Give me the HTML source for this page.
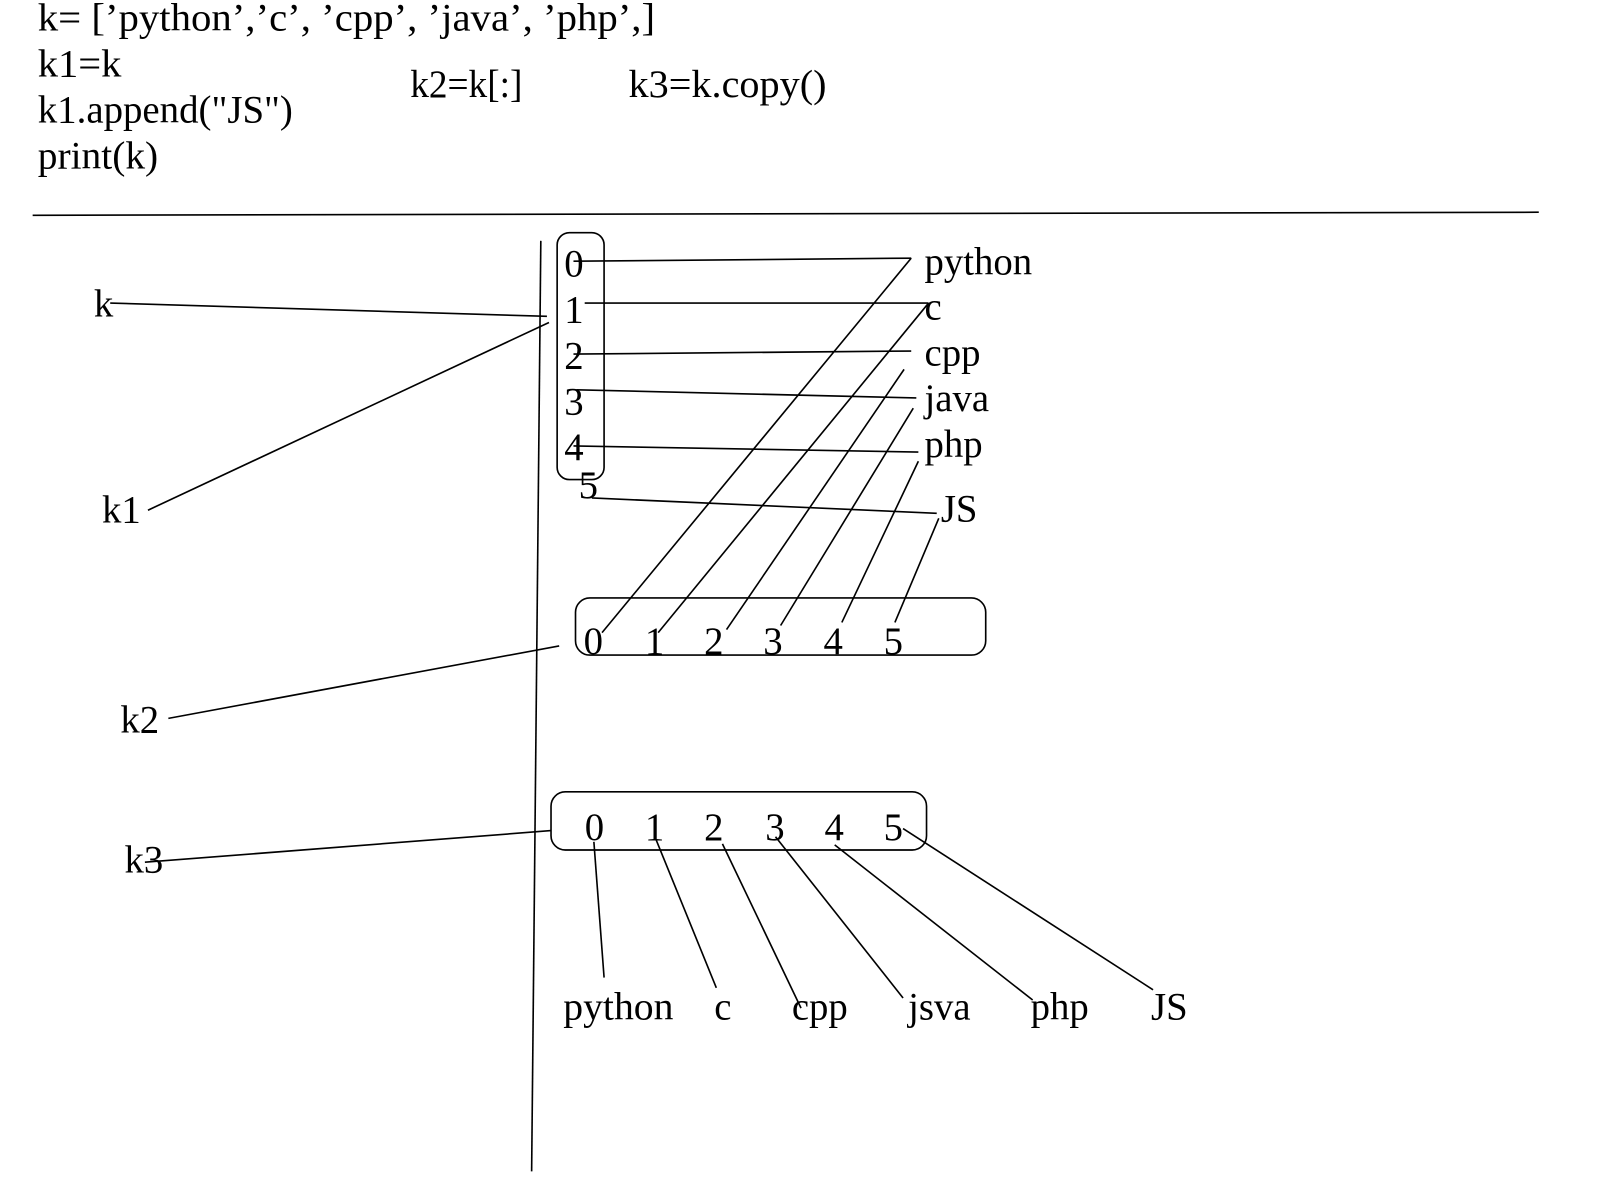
<!DOCTYPE html>
<html><head><meta charset="utf-8"><style>
html,body{margin:0;padding:0;background:#fff;}
svg{display:block;}
text{font-family:"Liberation Serif",serif;fill:#000;}
line,rect{stroke:#000;fill:none;stroke-width:1.6;}
</style></head><body>
<svg width="1600" height="1200" viewBox="0 0 1568 1176" preserveAspectRatio="none">
<g font-size="38">
<text x="37" y="30" textLength="605" lengthAdjust="spacingAndGlyphs">k=  [’python’,’c’,  ’cpp’,  ’java’,  ’php’,]</text>
<text x="37" y="75" textLength="82" lengthAdjust="spacingAndGlyphs">k1=k</text>
<text x="37" y="120" textLength="250" lengthAdjust="spacingAndGlyphs">k1.append("JS")</text>
<text x="37" y="165" textLength="118" lengthAdjust="spacingAndGlyphs">print(k)</text>
<text x="402" y="95" textLength="110" lengthAdjust="spacingAndGlyphs">k2=k[:]</text>
<text x="616" y="95" textLength="194" lengthAdjust="spacingAndGlyphs">k3=k.copy()</text>
</g>
<line x1="32" y1="211" x2="1508" y2="208"/>
<line x1="530" y1="236" x2="521" y2="1148"/>

<g font-size="38">
<text x="92" y="310">k</text>
<text x="100" y="512">k1</text>
<text x="118" y="718">k2</text>
<text x="122" y="855">k3</text>
</g>
<line x1="108" y1="297" x2="536" y2="310"/>
<line x1="145" y1="500" x2="538" y2="316"/>
<line x1="165" y1="704" x2="548" y2="633"/>
<line x1="142" y1="845" x2="540" y2="814"/>

<rect x="546" y="228" width="46" height="242" rx="12"/>
<g font-size="38">
<text x="553" y="271">0</text><text x="553" y="316">1</text><text x="553" y="361">2</text>
<text x="553" y="406">3</text><text x="553" y="451">4</text><text x="567" y="488">5</text>
</g>
<g>
<line x1="562" y1="256" x2="893" y2="253"/>
<line x1="573" y1="297" x2="910" y2="297"/>
<line x1="562" y1="347" x2="893" y2="344"/>
<line x1="565" y1="382" x2="898" y2="390"/>
<line x1="562" y1="437" x2="900" y2="443"/>
<line x1="580" y1="488" x2="918" y2="503"/>
</g>
<g font-size="38">
<text x="906" y="269">python</text><text x="906" y="313">c</text><text x="906" y="358">cpp</text>
<text x="906" y="403">java</text><text x="906" y="448">php</text><text x="922" y="511">JS</text>
</g>

<rect x="564" y="586" width="402" height="56" rx="14"/>
<g font-size="38">
<text x="572" y="641">0</text><text x="632" y="641">1</text><text x="690" y="641">2</text>
<text x="748" y="641">3</text><text x="807" y="641">4</text><text x="866" y="641">5</text>
</g>
<g>
<line x1="590" y1="620" x2="893" y2="253"/>
<line x1="645" y1="620" x2="910" y2="297"/>
<line x1="712" y1="617" x2="886" y2="362"/>
<line x1="765" y1="613" x2="895" y2="400"/>
<line x1="825" y1="610" x2="900" y2="452"/>
<line x1="877" y1="610" x2="920" y2="508"/>
</g>

<rect x="540" y="776" width="368" height="57" rx="14"/>
<g font-size="38">
<text x="573" y="823">0</text><text x="632" y="823">1</text><text x="690" y="823">2</text>
<text x="750" y="823">3</text><text x="808" y="823">4</text><text x="866" y="823">5</text>
</g>
<g>
<line x1="582" y1="825" x2="592" y2="958"/>
<line x1="643" y1="823" x2="702" y2="968"/>
<line x1="708" y1="827" x2="785" y2="988"/>
<line x1="760" y1="820" x2="885" y2="978"/>
<line x1="818" y1="828" x2="1012" y2="980"/>
<line x1="885" y1="812" x2="1130" y2="970"/>
</g>
<g font-size="38">
<text x="552" y="999" textLength="108" lengthAdjust="spacingAndGlyphs">python</text><text x="700" y="999">c</text><text x="776" y="999">cpp</text>
<text x="890" y="999">jsva</text><text x="1010" y="999">php</text><text x="1128" y="999">JS</text>
</g>
</svg>
</body></html>
